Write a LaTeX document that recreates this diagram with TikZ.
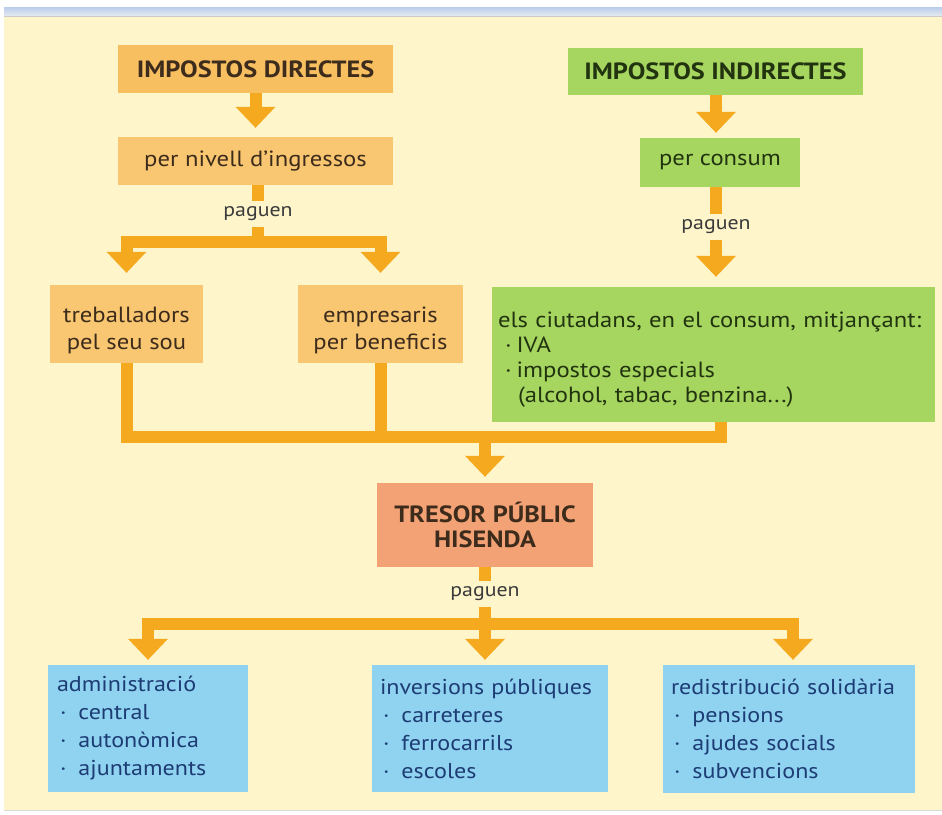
\documentclass[tikz,border=0pt]{standalone}
\usepackage{fontspec}
\setmainfont[FakeStretch=1.12]{PT Sans}
\usetikzlibrary{arrows.meta,calc}
\definecolor{cream}{HTML}{FEF5CB}
\definecolor{orbox}{HTML}{F9C771}
\definecolor{orboxB}{HTML}{F8BF60}
\definecolor{grbox}{HTML}{A6D660}
\definecolor{arr}{HTML}{F5A91E}
\definecolor{salmon}{HTML}{F3A275}
\definecolor{bluebox}{HTML}{8FD3F1}
\definecolor{brown}{HTML}{3D2B1C}
\definecolor{dkgreen}{HTML}{22340F}
\definecolor{navy}{HTML}{1E3C74}
\definecolor{pagtxt}{HTML}{3A3A3A}
\definecolor{stripA}{HTML}{B9CDEB}
\definecolor{stripB}{HTML}{E6EBF2}
\begin{document}
\begin{tikzpicture}[x=1pt,y=-1pt,
  obox/.style={fill=orbox, text=brown, inner sep=0pt, align=center, font=\fontsize{22}{27}\selectfont},
  gbox/.style={fill=grbox, text=dkgreen, inner sep=0pt, align=center, font=\fontsize{22}{27}\selectfont},
  headfont/.style={font=\fontsize{23.5}{24}\selectfont\bfseries},
  bbox/.style={fill=bluebox, text=navy, inner xsep=9pt, inner ysep=0pt, align=left, font=\fontsize{21.5}{28}\selectfont},
  pag/.style={text=pagtxt, inner sep=6pt, font=\fontsize{19.5}{22}\selectfont},
  bar/.style={draw=arr, line width=12pt, line join=miter},
  arrowbar/.style={bar, -{Triangle[width=40pt,length=21pt,line width=0pt]}}]
\useasboundingbox (0,0) rectangle (942,814);
\fill[white] (0,0) rectangle (942,814);
\shade[top color=stripA, bottom color=stripB] (4,7) rectangle (942,16);
\fill[cream] (4,16) rectangle (942,810);
\draw[black!20, line width=0.8pt] (4,16.5) -- (942,16.5);
\draw[black!15, line width=0.8pt] (4,810.5) -- (942,810.5);

% nodes
\node[obox, fill=orboxB, minimum width=275pt, minimum height=48pt, headfont] (dir) at (255.5,69) {IMPOSTOS DIRECTES};
\node[obox, minimum width=275pt, minimum height=48pt] (niv) at (255.5,161) {per nivell d’ingressos};
\node[pag] (pag1) at (258,214) {paguen};
\node[obox, minimum width=153pt, minimum height=78pt] (trab) at (126.5,324) {\rule{0pt}{28pt}treballadors\\pel seu sou};
\node[obox, minimum width=165pt, minimum height=78pt] (emp) at (380.5,324) {\rule{0pt}{28pt}empresaris\\per beneficis};

\node[gbox, minimum width=295pt, minimum height=47pt, headfont] (ind) at (715.5,71.5) {IMPOSTOS INDIRECTES};
\node[gbox, minimum width=160pt, minimum height=49pt] (cons) at (720,162.5) {per consum};
\node[pag] (pag2) at (716,227) {paguen};
\node[gbox, align=left, text width=431pt, inner xsep=6pt, minimum width=443pt, minimum height=135pt, font=\fontsize{22}{25}\selectfont] (ciut) at (713.5,354.5)
  {\rule{0pt}{25pt}els ciutadans, en el consum, mitjançant:\\
   \hspace*{7pt}·\hspace{5pt}IVA\\
   \hspace*{7pt}·\hspace{5pt}impostos especials\\
   \hspace*{20pt}(alcohol, tabac, benzina...)};

\node[obox, fill=salmon, minimum width=216pt, minimum height=84pt, font=\fontsize{23.5}{25}\selectfont\bfseries] (tres) at (485,525) {TRESOR PÚBLIC\\HISENDA};
\node[pag] (pag3) at (485,594) {paguen};

\node[bbox, text width=182pt, minimum width=200pt, minimum height=127pt] (adm) at (148,728.5)
  {administració\\
   \hspace*{3pt}·\hspace{12pt}central\\
   \hspace*{3pt}·\hspace{12pt}autonòmica\\
   \hspace*{3pt}·\hspace{12pt}ajuntaments};
\node[bbox, text width=220pt, inner xsep=8pt, minimum width=236pt, minimum height=127pt] (inv) at (490,728.5)
  {\makebox[0pt][l]{inversions públiques}\\
   \hspace*{3pt}·\hspace{12pt}carreteres\\
   \hspace*{3pt}·\hspace{12pt}ferrocarrils\\
   \hspace*{3pt}·\hspace{12pt}escoles};
\node[bbox, text width=236pt, inner xsep=8pt, minimum width=252pt, minimum height=128pt] (red) at (789,729)
  {\makebox[0pt][l]{redistribució solidària}\\
   \hspace*{3pt}·\hspace{12pt}pensions\\
   \hspace*{3pt}·\hspace{12pt}ajudes socials\\
   \hspace*{3pt}·\hspace{12pt}subvencions};

% junction coordinates
\coordinate (b1) at (258,242);
\coordinate (xa) at (716,0);
\coordinate (xr) at (721,0);
\coordinate (b2) at (485,437);
\coordinate (b3) at (485,624);

% connectors left
\draw[arrowbar, shorten >=9pt] (dir.south) -- (niv.north);
\draw[bar] (pag1.north |- niv.south) -- (pag1.north);
\draw[bar] (pag1.south) -- (b1);
\draw[arrowbar, shorten >=12pt] (b1) -| (trab.north);
\draw[arrowbar, shorten >=12pt] (b1) -| (emp.north);

% connectors right
\draw[arrowbar, shorten >=5pt] (ind.south -| xa) -- (cons.north -| xa);
\draw[bar] (cons.south -| xa) -- (pag2.north);
\draw[arrowbar, shorten >=10pt] (pag2.south) -- (pag2.south |- ciut.north);

% collecting bar
\draw[bar] (trab.south) |- (b2 -| xr) -- (ciut.south -| xr);
\draw[bar] (emp.south) -- (emp.south |- b2);
\draw[arrowbar, shorten >=6pt] (b2) -- (tres.north);

% distribution
\draw[bar] (tres.south) -- (pag3.north);
\draw[bar] (pag3.south) -- (b3);
\draw[arrowbar, shorten >=5pt] (b3) -| (adm.north);
\draw[arrowbar, shorten >=5pt] (b3) -- (b3 |- inv.north);
\draw[arrowbar, shorten >=5pt] (b3) -| ($(red.north)+(4,0)$);
\end{tikzpicture}
\end{document}
